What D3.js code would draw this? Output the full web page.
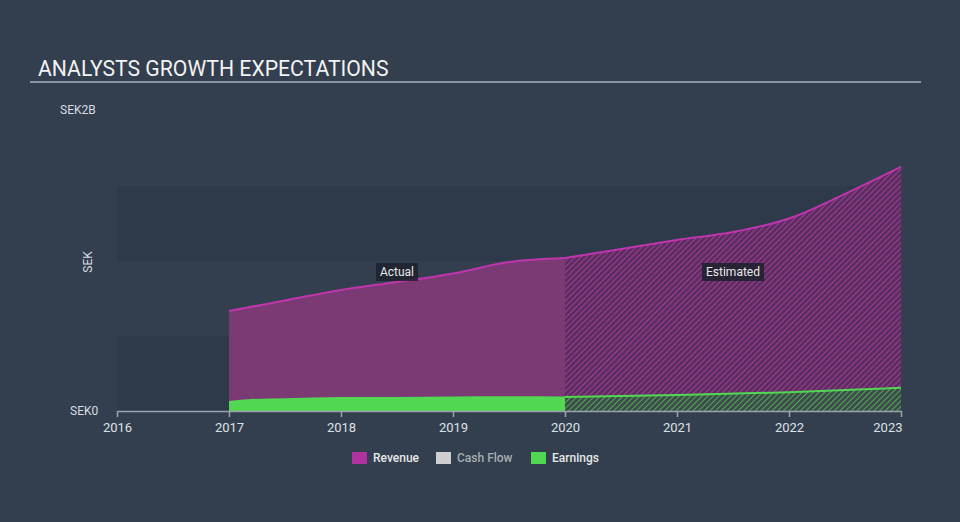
<!DOCTYPE html>
<html><head><meta charset="utf-8">
<script src="https://cdn.jsdelivr.net/npm/d3@7"></script>
<style>
html,body{margin:0;padding:0;background:#333f4f;}
svg{display:block;font-family:Roboto,"Open Sans",sans-serif;}
</style></head>
<body>
<svg id="c" width="960" height="522"></svg>
<script>
const yearTicks = [2016, 2017, 2018, 2019, 2020, 2021, 2022, 2023];
const revActualT = [2017.0, 2017.5, 2018.0, 2018.5, 2019.0, 2019.5, 2020.0];
const revActualV = [0.667, 0.737, 0.807, 0.86, 0.917, 0.993, 1.02];
const revEstT = [2020.0, 2020.5, 2021.0, 2021.5, 2022.0, 2022.5, 2023.0];
const revEstV = [1.02, 1.08, 1.14, 1.193, 1.283, 1.447, 1.627];
const earnActualT = [2017.0, 2017.2, 2017.5, 2018.0, 2018.5, 2019.0, 2019.5, 2020.0];
const earnActualV = [0.067, 0.08, 0.085, 0.093, 0.094, 0.097, 0.099, 0.097];
const earnEstT = [2020.0, 2021.0, 2022.0, 2023.0];
const earnEstV = [0.093, 0.107, 0.125, 0.155];
const yMax = 2; // SEK billions
const yLabels = [{v:0, t:"SEK0"}, {v:2, t:"SEK2B"}];
const bands = [0, 0.5, 1.0, 1.5];
const legendItems = [
  {name:"Revenue", color:"#b0329e", text:"#e6e6e6"},
  {name:"Cash Flow", color:"#cfcfcf", text:"#a9adb3"},
  {name:"Earnings", color:"#52d752", text:"#e6e6e6"}
];

const svg = d3.select("#c");
const x = d3.scaleLinear().domain([2016, 2023]).range([117, 901]);
const y = d3.scaleLinear().domain([0, yMax]).range([411, 111]);

// patterns
const defs = svg.append("defs");
const p1 = defs.append("pattern").attr("id","hatchRev").attr("patternUnits","userSpaceOnUse")
  .attr("width",4).attr("height",4).attr("patternTransform","rotate(45)");
p1.append("rect").attr("width",4).attr("height",4).attr("fill","#5a2e5f");
p1.append("line").attr("x1",0).attr("y1",0).attr("x2",0).attr("y2",4).attr("stroke","#a43a97").attr("stroke-width",2);
const p2 = defs.append("pattern").attr("id","hatchEarn").attr("patternUnits","userSpaceOnUse")
  .attr("width",4).attr("height",4).attr("patternTransform","rotate(45)");
p2.append("rect").attr("width",4).attr("height",4).attr("fill","#3d4d4c");
p2.append("line").attr("x1",0).attr("y1",0).attr("x2",0).attr("y2",4).attr("stroke","#4faa52").attr("stroke-width",2);

// title
svg.append("text").attr("x",38).attr("y",76).attr("fill","#f2f2f2")
  .attr("font-size",21.2).text("ANALYSTS GROWTH EXPECTATIONS");
svg.append("line").attr("x1",30).attr("x2",921).attr("y1",82).attr("y2",82)
  .attr("stroke","#aab2bd").attr("stroke-width",1.5);

// background bands
bands.forEach((b,i)=>{
  if(i%2===0) svg.append("rect").attr("x",x(2016)).attr("width",x(2023)-x(2016))
    .attr("y",y(b+0.5)).attr("height",y(b)-y(b+0.5)).attr("fill","#2e3a49");
});

// y labels
svg.append("text").attr("x",60).attr("y",y(2)-1).attr("dy","0.35em").attr("fill","#d8dce0")
  .attr("font-size",12).text(yLabels[1].t);
svg.append("text").attr("x",70).attr("y",y(0)).attr("dy","0.35em").attr("fill","#d8dce0")
  .attr("font-size",12).text(yLabels[0].t);
svg.append("text").attr("transform","translate(92,262) rotate(-90)").attr("text-anchor","middle")
  .attr("fill","#d8dce0").attr("font-size",12).text("SEK");

const curve = d3.curveMonotoneX;
const zip = (t,v)=>t.map((d,i)=>({t:d,v:v[i]}));
const area = d3.area().x(d=>x(d.t)).y0(y(0)).y1(d=>y(d.v)).curve(curve);
const line = d3.line().x(d=>x(d.t)).y(d=>y(d.v)).curve(curve);

const ra = zip(revActualT, revActualV), re = zip(revEstT, revEstV);
const ea = zip(earnActualT, earnActualV), ee = zip(earnEstT, earnEstV);

svg.append("path").attr("d",area(ra)).attr("fill","#7b3a74");
svg.append("path").attr("d",area(re)).attr("fill","url(#hatchRev)");
svg.append("path").attr("d",line(ra)).attr("fill","none").attr("stroke","#c035ad").attr("stroke-width",2);
svg.append("path").attr("d",line(re)).attr("fill","none").attr("stroke","#c035ad").attr("stroke-width",2);

svg.append("path").attr("d",area(ea)).attr("fill","#52d752");
svg.append("path").attr("d",area(ee)).attr("fill","url(#hatchEarn)");
svg.append("path").attr("d",line(ee)).attr("fill","none").attr("stroke","#52d752").attr("stroke-width",2);

// x axis
const ax = svg.append("g").attr("transform",`translate(0,${y(0)})`)
  .call(d3.axisBottom(x).tickValues(yearTicks).tickFormat(d3.format("d")).tickSize(6).tickSizeOuter(0));
ax.select(".domain").attr("stroke","#9aa3ae").attr("stroke-width",1.5);
ax.selectAll(".tick line").attr("stroke","#9aa3ae").attr("stroke-width",1.5);
ax.selectAll(".tick text").attr("fill","#dde1e5").attr("font-size",13).attr("font-family","Roboto,sans-serif").attr("dy","0.9em");
ax.selectAll(".tick text").filter(d=>d===2023).attr("text-anchor","end").attr("dx",1);

// Actual / Estimated labels
function tag(cx, cy, txt){
  const g = svg.append("g");
  const t = g.append("text").attr("x",cx).attr("y",cy).attr("dy","0.35em").attr("text-anchor","middle")
    .attr("fill","#e8e8e8").attr("font-size",12).text(txt);
  const bb = t.node().getBBox();
  g.insert("rect","text").attr("x",bb.x-4).attr("y",cy-9).attr("width",bb.width+8).attr("height",18)
    .attr("fill","#1c212b").attr("fill-opacity",0.85);
}
tag(397, 272, "Actual");
tag(733, 272, "Estimated");

// legend
const lx = [352, 436, 531];
legendItems.forEach((d,i)=>{
  svg.append("rect").attr("x",lx[i]).attr("y",452).attr("width",15).attr("height",12).attr("fill",d.color);
  svg.append("text").attr("x",lx[i]+21).attr("y",458).attr("dy","0.35em").attr("fill",d.text)
    .attr("font-size",12).attr("font-weight",500).text(d.name);
});
</script>
</body></html>
